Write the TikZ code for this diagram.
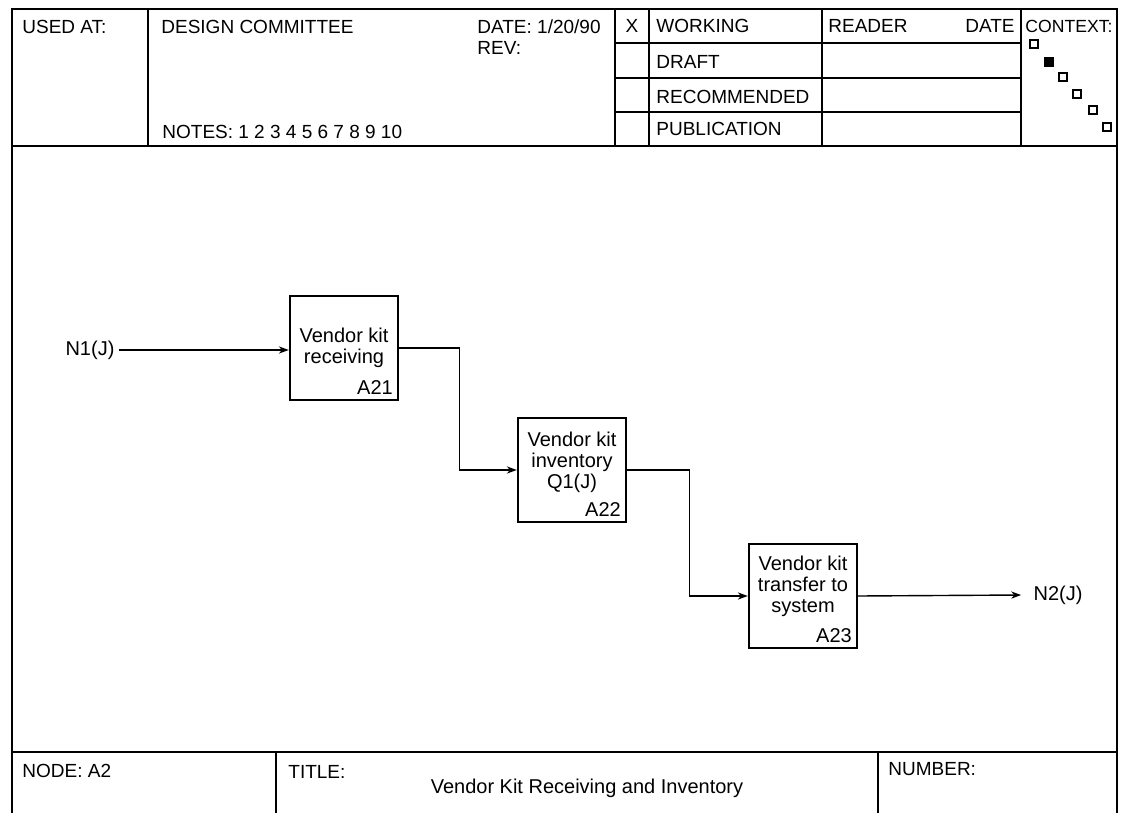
\documentclass[tikz,border=0pt]{standalone}
\usepackage{fontspec}
\setmainfont{Liberation Sans}
\usetikzlibrary{arrows.meta,positioning}

\begin{document}
\begin{tikzpicture}[
  x=0.5pt, y=-0.5pt,
  font=\fontsize{9.5}{11}\selectfont,
  frame/.style={line width=1pt},
  act/.style={draw, line width=1.2pt, minimum width=54pt, minimum height=52pt,
              align=center, inner sep=2pt, font=\fontsize{10}{10.5}\selectfont},
  num/.style={anchor=south east, inner sep=3pt, font=\fontsize{10}{11}\selectfont},
  hd/.style={anchor=west, inner sep=0pt},
  lbl/.style={inner sep=2pt, font=\fontsize{10}{11}\selectfont},
  a/.style={-{Stealth[length=5pt,width=3.6pt]}, line width=0.7pt},
  ctx/.style={draw, line width=1pt, minimum size=3.8pt, inner sep=0pt}
]
\useasboundingbox (0,0) rectangle (1124,813);

% ---- form frame ----
\draw[frame] (12,813) -- (12,9) -- (1117,9) -- (1117,813);
\draw[frame] (12,146) -- (1117,146);
\draw[frame] (12,752) -- (1117,752);
\draw[frame] (148,9) -- (148,146);
\draw[frame] (615,9) -- (615,146);
\draw[frame] (649,9) -- (649,146);
\draw[frame] (822,9) -- (822,146);
\draw[frame] (1021,9) -- (1021,146);
\draw[frame] (615,43) -- (1021,43);
\draw[frame] (615,78) -- (1021,78);
\draw[frame] (615,112) -- (1021,112);
\draw[frame] (276,752) -- (276,813);
\draw[frame] (878,752) -- (878,813);

% ---- header texts ----
\node[hd] (used)  at (22,27)   {USED AT:};
\node[hd] (auth)  at (161,27)  {DESIGN COMMITTEE};
\node[hd] (date)  at (477,27)  {DATE: 1/20/90};
\node[hd] (rev)   at (477,48)  {REV:};
\node[hd] (notes) at (162,132) {NOTES: 1 2 3 4 5 6 7 8 9 10};
\node[inner sep=0pt] (xmark) at (632,26) {X};
\node[hd] (work)  at (656,26)  {WORKING};
\node[hd] (draft) at (656,62)  {DRAFT};
\node[hd] (recom) at (656,97)  {RECOMMENDED};
\node[hd] (publ)  at (656,129) {PUBLICATION};
\node[hd] (read)  at (828,26)  {READER};
\node[anchor=east, inner sep=0pt] (rdate) at (1015,26) {DATE};
\node[hd, font=\fontsize{8.8}{10}\selectfont] (ctxt) at (1025,26) {CONTEXT:};

% ---- context marks ----
\node[ctx] (c1) at (1034,44)  {};
\node[ctx, fill=black] (c2) at (1049,62) {};
\node[ctx] (c3) at (1063,77)  {};
\node[ctx] (c4) at (1077,94)  {};
\node[ctx] (c5) at (1093,110) {};
\node[ctx] (c6) at (1107,127) {};

% ---- activities ----
\node[act] (a21) at (344,348) {Vendor kit\\receiving};
\node[num] (a21n) at (a21.south east) {A21};
\node[act, text depth=10pt] (a22) at (572,470) {Vendor kit\\inventory\\Q1(J)};
\node[num] (a22n) at (a22.south east) {A22};
\node[act, text depth=12pt] (a23) at (803,596) {Vendor kit\\transfer to\\system};
\node[num] (a23n) at (a23.south east) {A23};

\node[lbl] (n1) at (90,350)   {N1(J)};
\node[lbl] (n2) at (1058,595) {N2(J)};

\draw[a] (n1)       -- (a21.west |- n1);
\draw[a] (a21.east) -- ++(60,0) |- (a22.west);
\draw[a] (a22.east) -- ++(62,0) |- (a23.west);
\draw[a] (a23.east) -- ([xshift=-4pt]n2.west);

% ---- footer ----
\node[hd] (node)  at (22,771)  {NODE: A2};
\node[hd] (title) at (288,772) {TITLE:};
\node[lbl] (ttext) at (587,788) {Vendor Kit Receiving and Inventory};
\node[hd] (numb)  at (888,769) {NUMBER:};
\end{tikzpicture}
\end{document}
